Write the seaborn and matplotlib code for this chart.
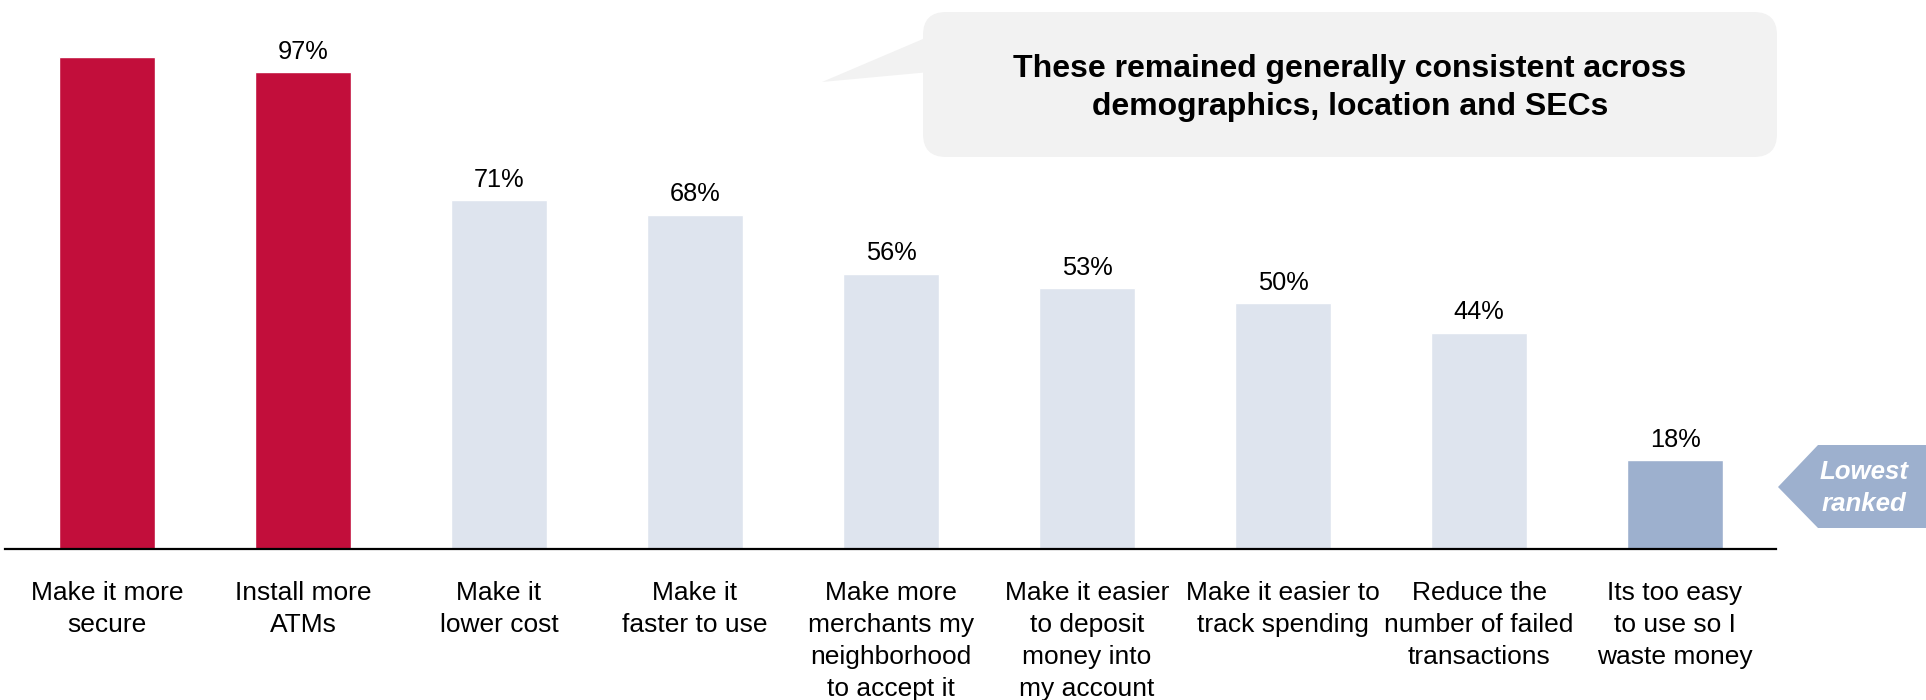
import matplotlib
matplotlib.use("Agg")
import matplotlib.pyplot as plt
import seaborn as sns
import pandas as pd
from matplotlib.patches import FancyBboxPatch, Polygon

# Survey results: what would make people use the service more
categories = [
    "Make it more\nsecure",
    "Install more\nATMs",
    "Make it\nlower cost",
    "Make it\nfaster to use",
    "Make more\nmerchants my\nneighborhood\nto accept it",
    "Make it easier\nto deposit\nmoney into\nmy account",
    "Make it easier to\ntrack spending",
    "Reduce the\nnumber of failed\ntransactions",
    "Its too easy\nto use so I\nwaste money",
]
values = [100, 97, 71, 68, 56, 53, 50, 44, 18]
value_labels = ["", "97%", "71%", "68%", "56%", "53%", "50%", "44%", "18%"]
groups = ["top", "top", "mid", "mid", "mid", "mid", "mid", "mid", "low"]
group_colors = {"top": "#C20E3B", "mid": "#DEE4EE", "low": "#9DB0CE"}

callout_text = "These remained generally consistent across\ndemographics, location and SECs"
lowest_text = "Lowest\nranked"

sns.set_style("white")
plt.rcParams["font.family"] = ["Liberation Sans", "DejaVu Sans"]

W, H = 1926, 700
fig = plt.figure(figsize=(W / 100, H / 100), dpi=100)

df = pd.DataFrame({"category": categories, "value": values, "group": groups})

ax = fig.add_axes([5 / W, 151 / H, 1771 / W, 541 / H])
sns.barplot(
    data=df, x="category", y="value", hue="category",
    palette=[group_colors[g] for g in groups],
    width=0.49, saturation=1, legend=False, ax=ax,
)
ax.set_xlim(-0.52, 8.515)
ax.set_ylim(0, 110)
ax.set_xlabel("")
ax.set_ylabel("")
ax.set_yticks([])
for side in ("top", "left", "right"):
    ax.spines[side].set_visible(False)
ax.spines["bottom"].set_color("black")
ax.spines["bottom"].set_linewidth(1.6)
ax.tick_params(axis="x", length=0, pad=22.7, labelsize=19, labelcolor="black")
for lbl in ax.get_xticklabels():
    lbl.set_linespacing(1.43)

for i, (v, txt) in enumerate(zip(values, value_labels)):
    if txt:
        ax.annotate(txt, (i, v), xytext=(0, 9.5), textcoords="offset points",
                    ha="center", va="baseline", fontsize=18.3, color="black")

# Overlay in pixel units for the callouts
ov = fig.add_axes([0, 0, 1, 1], facecolor="none")
ov.set_xlim(0, W)
ov.set_ylim(H, 0)
ov.axis("off")

ov.add_patch(FancyBboxPatch((923, 12), 854, 145,
                            boxstyle="round,pad=0,rounding_size=23",
                            fc="#F2F2F2", ec="none"))
ov.add_patch(Polygon([(822, 82), (930, 36), (930, 72)], closed=True,
                     fc="#F2F2F2", ec="none"))
ov.text(1350, 88, callout_text, ha="center", va="center",
        fontsize=23, fontweight="bold", color="black",
        linespacing=1.38, multialignment="center")

ov.add_patch(Polygon([(1778, 487), (1818, 445), (1926, 445), (1926, 528),
                      (1818, 528)], closed=True, fc="#9DB0CE", ec="none"))
ov.text(1864, 488, lowest_text, ha="center", va="center",
        fontsize=18.6, fontweight="bold", fontstyle="italic", color="white",
        linespacing=1.38, multialignment="center")

fig.savefig("out.png", dpi=100)
